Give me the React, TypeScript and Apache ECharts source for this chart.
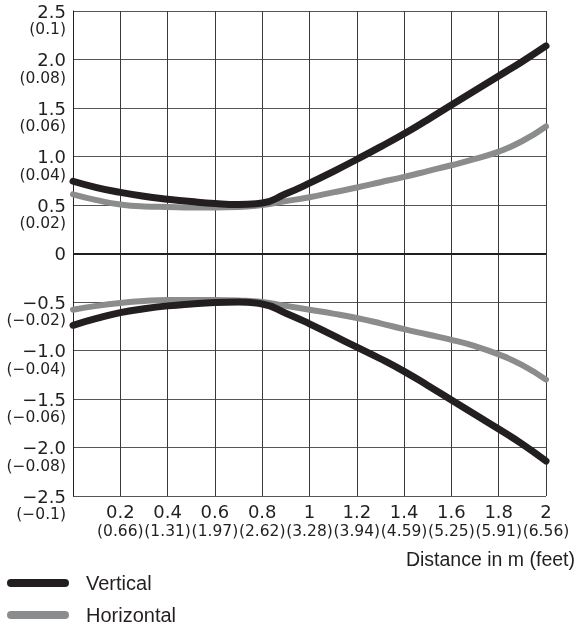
import React, { useEffect, useRef } from "react";
import * as echarts from "echarts";

// Distance in metres (x positions of the sampled curve points)
const xMeters = [0, 0.1, 0.2, 0.3, 0.4, 0.5, 0.6, 0.7, 0.8, 0.9, 1.0, 1.1, 1.2, 1.3, 1.4, 1.5, 1.6, 1.7, 1.8, 1.9, 2.0];

// Curves (upper and lower branch of each)
const vertUpper = [0.745, 0.68, 0.63, 0.59, 0.56, 0.535, 0.515, 0.505, 0.52, 0.615, 0.725, 0.845, 0.97, 1.1, 1.235, 1.38, 1.53, 1.68, 1.83, 1.98, 2.14];
const vertLower = [-0.74, -0.67, -0.61, -0.57, -0.54, -0.52, -0.505, -0.5, -0.52, -0.615, -0.725, -0.845, -0.965, -1.085, -1.215, -1.36, -1.51, -1.66, -1.81, -1.965, -2.14];
const horizUpper = [0.61, 0.55, 0.505, 0.485, 0.48, 0.475, 0.475, 0.48, 0.5, 0.54, 0.58, 0.63, 0.68, 0.735, 0.79, 0.85, 0.91, 0.975, 1.05, 1.16, 1.31];
const horizLower = [-0.58, -0.54, -0.51, -0.49, -0.48, -0.48, -0.48, -0.485, -0.5, -0.54, -0.58, -0.62, -0.665, -0.72, -0.78, -0.835, -0.89, -0.955, -1.04, -1.15, -1.3];

// X tick labels (every 0.2 m), index 0 = 0 m (not shown)
const xTickMain = ["", "0.2", "0.4", "0.6", "0.8", "1", "1.2", "1.4", "1.6", "1.8", "2"];
const xTickFeet = ["", "(0.66)", "(1.31)", "(1.97)", "(2.62)", "(3.28)", "(3.94)", "(4.59)", "(5.25)", "(5.91)", "(6.56)"];

// Y tick labels from -2.5 to 2.5 step 0.5
const yTickMain = ["−2.5", "−2.0", "−1.5", "−1.0", "−0.5", "0", "0.5", "1.0", "1.5", "2.0", "2.5"];
const yTickSub = ["(−0.1)", "(−0.08)", "(−0.06)", "(−0.04)", "(−0.02)", "", "(0.02)", "(0.04)", "(0.06)", "(0.08)", "(0.1)"];

const seriesNames = ["Vertical", "Horizontal"];
const BLACK = "#231f20";
const GREY = "#8b8c8e";
const NUM_FONT = "DejaVu Sans";
const TEXT_FONT = "Liberation Sans";

const pill = "path://M4,0 H58 A4,4 0 0 1 58,8 H4 A4,4 0 0 1 4,0 Z";

export default function App() {
  const ref = useRef<HTMLDivElement>(null);

  useEffect(() => {
    if (!ref.current) return;
    const chart = echarts.init(ref.current, null, { renderer: "svg" });
    const pts = (arr: number[]) => xMeters.map((x, i) => [x, arr[i]]);
    const lineSeries = (name: string, arr: number[], color: string, width: number, extra: any = {}) => ({
      type: "line",
      name,
      data: pts(arr),
      smooth: 0.5,
      symbol: "none",
      color,
      lineStyle: { color, width, cap: "round", join: "round" },
      z: color === BLACK ? 4 : 3,
      ...extra,
    });

    chart.setOption({
      animation: false,
      title: {
        text: "Distance in m (feet)",
        right: 2,
        top: 549,
        padding: 0,
        textStyle: { fontFamily: TEXT_FONT, fontSize: 19.5, fontWeight: "normal", color: BLACK },
      },
      legend: {
        data: seriesNames,
        orient: "vertical",
        left: 7,
        top: 571,
        padding: 0,
        itemWidth: 62,
        itemHeight: 8,
        itemGap: 8,
        icon: pill,
        textStyle: { fontFamily: TEXT_FONT, fontSize: 20, color: BLACK, lineHeight: 24, padding: [0, 0, 0, 12] },
        selectedMode: false,
      },
      grid: { left: 73, right: 31, top: 11, bottom: 135, containLabel: false, outerBoundsMode: "none" },
      xAxis: {
        type: "value",
        min: 0,
        max: 2,
        interval: 0.2,
        axisLine: { show: false, onZero: false },
        axisTick: { show: false },
        splitLine: { show: true, lineStyle: { color: "#3a3a3a", width: 1 } },
        axisLabel: {
          margin: 6,
          formatter: (v: number) => {
            const i = Math.round(v / 0.2);
            if (!xTickMain[i]) return "";
            return `{a|${xTickMain[i]}}\n{b|${xTickFeet[i]}}`;
          },
          rich: {
            a: { fontFamily: NUM_FONT, fontSize: 18, lineHeight: 19, color: BLACK },
            b: { fontFamily: NUM_FONT, fontSize: 15.5, lineHeight: 19, color: BLACK },
          },
        },
      },
      yAxis: {
        type: "value",
        min: -2.5,
        max: 2.5,
        interval: 0.5,
        axisLine: { show: true, lineStyle: { color: BLACK, width: 1 } },
        axisTick: { show: false },
        splitLine: { show: true, lineStyle: { color: "#555", width: 1 } },
        axisLabel: {
          margin: 7,
          formatter: (v: number) => {
            const i = Math.round((v + 2.5) / 0.5);
            if (!yTickSub[i]) return `{a|${yTickMain[i]}}`;
            return `{e| }\n{a|${yTickMain[i]}}\n{b|${yTickSub[i]}}`;
          },
          rich: {
            e: { fontFamily: NUM_FONT, fontSize: 8, lineHeight: 18 },
            a: { fontFamily: NUM_FONT, fontSize: 18, lineHeight: 18, color: BLACK, align: "right" },
            b: { fontFamily: NUM_FONT, fontSize: 15.5, lineHeight: 18, color: BLACK, align: "right" },
          },
        },
      },
      series: [
        lineSeries("Horizontal", horizUpper, GREY, 6, {
          markLine: {
            silent: true,
            symbol: ["none", "none"],
            label: { show: false },
            lineStyle: { color: BLACK, width: 2, type: "solid" },
            data: [{ yAxis: 0 }],
          },
        }),
        lineSeries("Horizontal", horizLower, GREY, 6),
        lineSeries("Vertical", vertUpper, BLACK, 7),
        lineSeries("Vertical", vertLower, BLACK, 7),
      ],
    });
    return () => chart.dispose();
  }, []);

  return <div ref={ref} style={{ position: "fixed", left: 0, top: 0, width: 577, height: 631 }} />;
}
